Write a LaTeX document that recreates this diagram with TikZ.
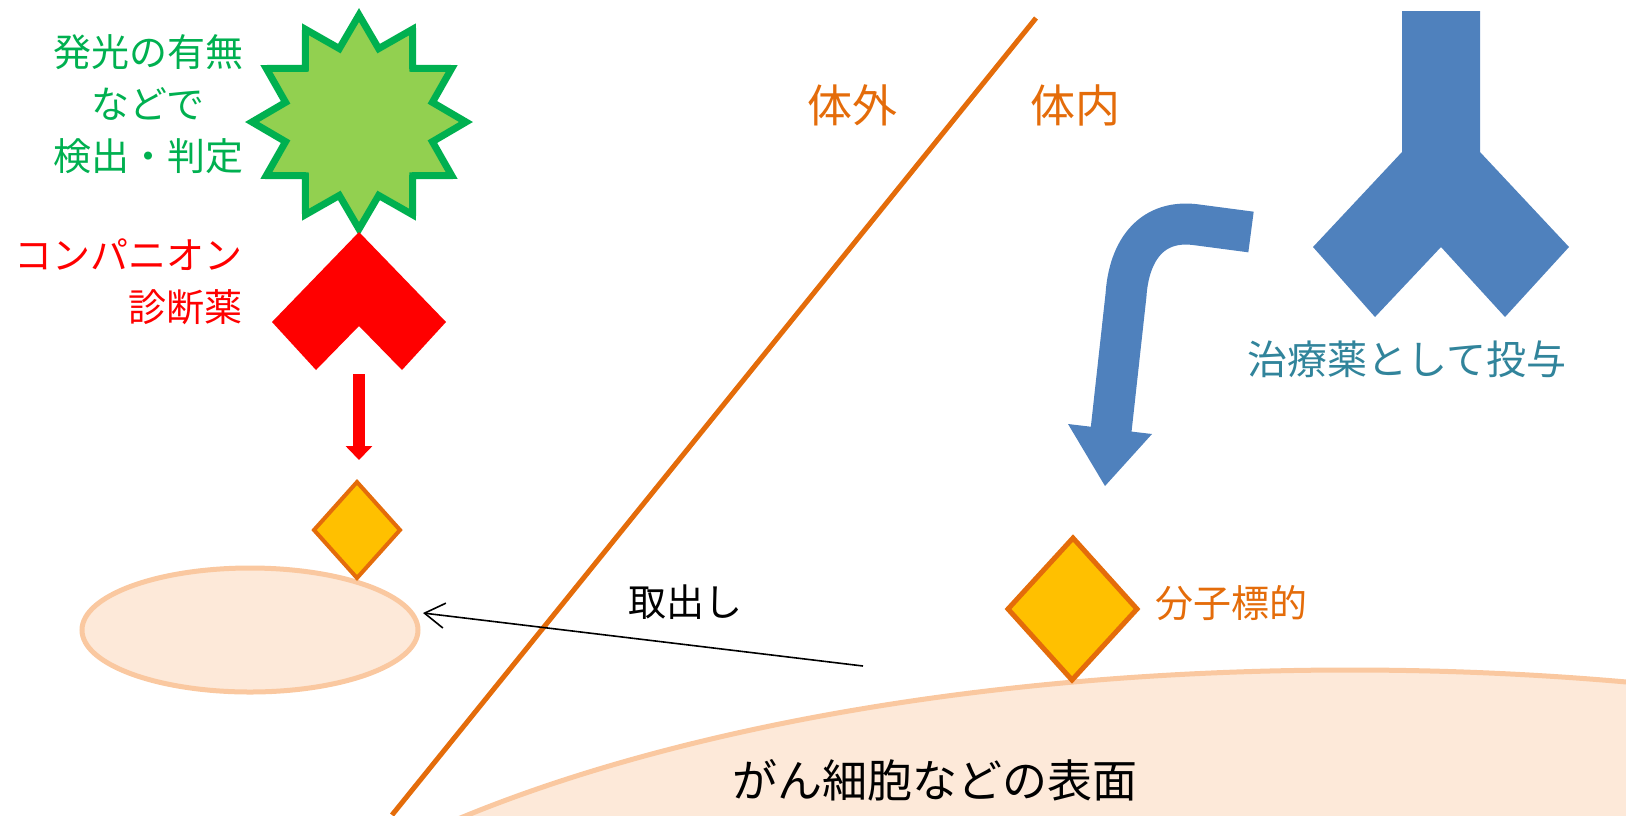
\documentclass[tikz,border=0pt]{standalone}
\usepackage{fontspec}
\setmainfont{Noto Sans CJK JP}
\usetikzlibrary{arrows.meta}
\definecolor{greenfill}{HTML}{92D050}
\definecolor{greenline}{HTML}{00B050}
\definecolor{redc}{HTML}{FF0000}
\definecolor{gold}{HTML}{FFC000}
\definecolor{orangeline}{HTML}{E46C0A}
\definecolor{peachfill}{HTML}{FDE9D9}
\definecolor{peachline}{HTML}{FAC8A0}
\definecolor{blueab}{HTML}{4F81BD}
\definecolor{tealtext}{HTML}{31849B}
\tikzset{
  lbl/.style={inner sep=0pt, font=\fontsize{19pt}{26pt}\selectfont},
  biglbl/.style={inner sep=0pt, font=\fontsize{22.5pt}{28pt}\selectfont},
  target/.style={fill=gold, draw=orangeline, line join=miter},
  cell/.style={fill=peachfill, draw=peachline, line width=2.5pt},
}
\begin{document}
\begin{tikzpicture}[x=0.5pt,y=-0.5pt]
\useasboundingbox (0,0) rectangle (1626,815);
\clip (0,0) rectangle (1626,815);

% big cancer cell surface
\draw[cell] (1350,1120) ellipse [x radius=1200, y radius=450];
\node[biglbl, text=black] (surface) at (935,780) {がん細胞などの表面};

% small extracted cell
\draw[cell] (250,630) ellipse [x radius=168, y radius=62];
\coordinate (smallcell) at (423,613);

% body boundary line
\coordinate (lineTop) at (1036,18);
\coordinate (lineBot) at (392,815);
\draw[orangeline, line width=2.5pt] (lineTop) -- (lineBot);
\node[biglbl, text=orangeline] (outside) at (852,105) {体外};
\node[biglbl, text=orangeline] (inside) at (1075,105) {体内};

% star (signal)
\begin{scope}[shift={(359,122)}]
\draw[fill=greenfill, draw=greenline, line width=3.5pt, line join=miter]
  (90:107) \foreach \a in {0,30,...,330} { -- (\a+105:76) -- (\a+120:107) } -- cycle;
\end{scope}
\node[lbl, text=greenline, align=center] (detect) at (148,104) {発光の有無\\などで\\検出・判定};

% companion diagnostic (red chevron)
\fill[redc] (359,232) -- (446,322) -- (402,370) -- (359,326) -- (316,370) -- (272,322) -- cycle;
\node[lbl, text=redc, align=right, anchor=east] (compdx) at (243,282) {コンパニオン\\診断薬};
\coordinate (redStart) at (359,374);
\coordinate (redEnd) at (359,460);
\draw[redc, line width=6pt, -{Triangle[length=7pt, width=13pt]}] (redStart) -- (redEnd);

% small target (extracted)
\draw[target, line width=2pt] (357,482) -- (400,530) -- (357,578) -- (314,530) -- cycle;

% big target in body
\draw[target, line width=2.5pt] (1073,538) -- (1137,609) -- (1072,680) -- (1008,609) -- cycle;
\node[lbl, text=orangeline, anchor=west] (molt) at (1155,603) {分子標的};

% extraction arrow
\coordinate (extractFrom) at (863,666);
\draw[black, line width=0.8pt, -{Straight Barb[length=10pt, width=12.5pt]}] (extractFrom) -- (smallcell);
\node[lbl, text=black] (extract) at (685,602) {取出し};

% antibody (Y)
\fill[blueab] (1402,11) -- (1480,11) -- (1480,152) -- (1569,247) -- (1505,317) -- (1441,247)
  -- (1375,317) -- (1313,247) -- (1402,152) -- cycle;
\node[lbl, font=\fontsize{20pt}{26pt}\selectfont, text=tealtext] (therapy) at (1407,359) {治療薬として投与};

% bent blue arrow
\coordinate (bendStart) at (1251,232);
\coordinate (bendEnd) at (1110,440);
\draw[blueab, line width=20.5pt, line cap=butt, line join=round]
  (bendStart) -- (1198,225) .. controls (1152,218) and (1129,250) .. (1126,295) -- (bendEnd);
\fill[blueab] (1068,424) -- (1152,434) -- (1105,486) -- cycle;
\end{tikzpicture}
\end{document}
